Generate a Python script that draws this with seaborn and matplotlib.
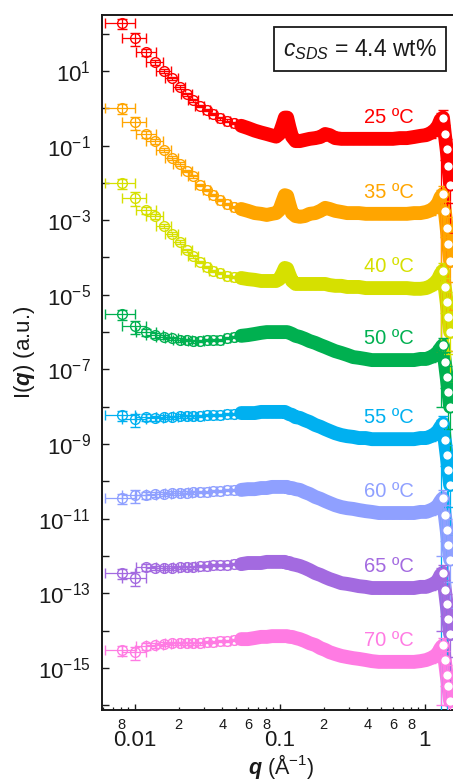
import numpy as np
import pandas as pd
import matplotlib
matplotlib.use("Agg")
import matplotlib.pyplot as plt
import seaborn as sns
from matplotlib.ticker import FixedLocator, FixedFormatter, NullLocator

# ---------------------------------------------------------------- data
temps = ["25 ºC", "35 ºC", "40 ºC", "50 ºC", "55 ºC", "60 ºC", "65 ºC", "70 ºC"]
colors = ["#FF0000", "#FFA500", "#D6E000", "#00B050",
          "#00B0F0", "#8FA0FF", "#A36AE0", "#FF7BE3"]

# scattering vector q (1/Å)
q = [0.0081, 0.0100, 0.0120, 0.0138, 0.0158, 0.0180, 0.0203, 0.0227, 0.0251, 0.0280,
     0.0312, 0.0345, 0.0385, 0.043, 0.048, 0.054, 0.060, 0.067, 0.074, 0.081,
     0.088, 0.094, 0.099, 0.104, 0.108, 0.112, 0.116, 0.121, 0.128, 0.137,
     0.148, 0.160, 0.175, 0.190, 0.205, 0.220, 0.240, 0.265, 0.290, 0.320,
     0.350, 0.390, 0.430, 0.480, 0.540, 0.600, 0.670, 0.750, 0.840, 0.930,
     1.020, 1.100, 1.170, 1.230, 1.280,
     1.330, 1.370, 1.410, 1.450, 1.490]

# log10 of the (offset) intensity for each temperature
log_i_25 = [2.29, 1.88, 1.51, 1.24, 1.00, 0.81, 0.57, 0.38, 0.22, 0.06,
            -0.05, -0.15, -0.27, -0.33, -0.39, -0.47, -0.53, -0.60, -0.65, -0.69,
            -0.73, -0.76, -0.69, -0.45, -0.25, -0.25, -0.50, -0.76, -0.88, -0.88,
            -0.85, -0.82, -0.80, -0.77, -0.69, -0.72, -0.80, -0.82, -0.82, -0.82,
            -0.82, -0.82, -0.82, -0.82, -0.82, -0.82, -0.80, -0.80, -0.77, -0.74,
            -0.72, -0.66, -0.58, -0.47, -0.31,
            -0.25, -0.70, -1.10, -1.55, -2.05]
log_i_35 = [0.01, -0.37, -0.69, -0.88, -1.12, -1.33, -1.49, -1.68, -1.82, -2.06,
            -2.19, -2.32, -2.46, -2.57, -2.65, -2.70, -2.75, -2.81, -2.83, -2.86,
            -2.83, -2.81, -2.73, -2.50, -2.33, -2.35, -2.57, -2.81, -2.89, -2.91,
            -2.89, -2.83, -2.81, -2.75, -2.67, -2.70, -2.75, -2.78, -2.81, -2.81,
            -2.81, -2.83, -2.83, -2.83, -2.83, -2.83, -2.83, -2.83, -2.81, -2.81,
            -2.78, -2.73, -2.65, -2.54, -2.38,
            -2.30, -2.75, -3.20, -3.65, -4.10]
log_i_40 = [-2.00, -2.40, -2.73, -2.89, -3.16, -3.37, -3.58, -3.80, -3.96, -4.12,
            -4.25, -4.36, -4.42, -4.50, -4.52, -4.55, -4.58, -4.60, -4.63, -4.63,
            -4.63, -4.63, -4.58, -4.42, -4.28, -4.30, -4.46, -4.63, -4.71, -4.71,
            -4.71, -4.71, -4.71, -4.71, -4.71, -4.74, -4.76, -4.76, -4.79, -4.79,
            -4.79, -4.82, -4.82, -4.82, -4.82, -4.82, -4.82, -4.82, -4.84, -4.84,
            -4.82, -4.76, -4.68, -4.58, -4.44,
            -4.35, -4.80, -5.20, -5.60, -6.00]
log_i_50 = [-5.51, -5.84, -6.00, -6.08, -6.13, -6.16, -6.21, -6.21, -6.24, -6.24,
            -6.21, -6.21, -6.21, -6.16, -6.13, -6.10, -6.08, -6.05, -6.02, -6.00,
            -6.00, -6.00, -6.00, -6.00, -6.00, -6.00, -6.02, -6.05, -6.10, -6.13,
            -6.18, -6.24, -6.29, -6.35, -6.40, -6.45, -6.51, -6.56, -6.61, -6.67,
            -6.69, -6.72, -6.75, -6.75, -6.75, -6.75, -6.75, -6.75, -6.75, -6.72,
            -6.72, -6.67, -6.61, -6.53, -6.43,
            -6.35, -6.80, -7.20, -7.60, -8.00]
log_i_55 = [-8.22, -8.33, -8.28, -8.30, -8.28, -8.28, -8.25, -8.25, -8.25, -8.25,
            -8.22, -8.22, -8.22, -8.20, -8.20, -8.17, -8.17, -8.17, -8.14, -8.14,
            -8.14, -8.14, -8.14, -8.14, -8.14, -8.17, -8.20, -8.22, -8.28, -8.30,
            -8.36, -8.41, -8.49, -8.54, -8.60, -8.65, -8.71, -8.76, -8.79, -8.81,
            -8.84, -8.84, -8.87, -8.87, -8.87, -8.87, -8.87, -8.87, -8.87, -8.84,
            -8.84, -8.79, -8.73, -8.65, -8.54,
            -8.45, -8.90, -9.30, -9.70, -10.10]
log_i_60 = [-10.45, -10.37, -10.37, -10.34, -10.34, -10.31, -10.31, -10.31, -10.29, -10.29,
            -10.29, -10.26, -10.26, -10.23, -10.23, -10.23, -10.21, -10.21, -10.18, -10.18,
            -10.15, -10.15, -10.15, -10.15, -10.15, -10.15, -10.18, -10.18, -10.21, -10.23,
            -10.29, -10.34, -10.42, -10.47, -10.53, -10.58, -10.64, -10.69, -10.72, -10.74,
            -10.77, -10.80, -10.82, -10.85, -10.85, -10.85, -10.85, -10.85, -10.85, -10.82,
            -10.82, -10.77, -10.72, -10.64, -10.53,
            -10.45, -10.90, -11.30, -11.70, -12.10]
log_i_65 = [-12.46, -12.59, -12.30, -12.32, -12.32, -12.32, -12.30, -12.30, -12.30, -12.27,
            -12.27, -12.24, -12.24, -12.24, -12.22, -12.22, -12.19, -12.19, -12.19, -12.16,
            -12.16, -12.16, -12.16, -12.16, -12.16, -12.19, -12.19, -12.22, -12.24, -12.27,
            -12.32, -12.38, -12.46, -12.51, -12.57, -12.62, -12.67, -12.73, -12.75, -12.78,
            -12.81, -12.83, -12.86, -12.86, -12.86, -12.86, -12.86, -12.86, -12.86, -12.83,
            -12.83, -12.78, -12.73, -12.65, -12.51,
            -12.45, -12.90, -13.30, -13.70, -14.10]
log_i_70 = [-14.52, -14.58, -14.42, -14.39, -14.36, -14.34, -14.34, -14.34, -14.34, -14.34,
            -14.31, -14.31, -14.28, -14.28, -14.25, -14.23, -14.23, -14.20, -14.17, -14.17,
            -14.15, -14.15, -14.15, -14.15, -14.15, -14.15, -14.17, -14.17, -14.20, -14.23,
            -14.28, -14.34, -14.39, -14.47, -14.52, -14.58, -14.63, -14.68, -14.71, -14.74,
            -14.76, -14.79, -14.82, -14.84, -14.84, -14.84, -14.84, -14.84, -14.84, -14.82,
            -14.79, -14.74, -14.68, -14.60, -14.47,
            -14.40, -14.80, -15.20, -15.50, -15.90]
log_intensity = [log_i_25, log_i_35, log_i_40, log_i_50,
                 log_i_55, log_i_60, log_i_65, log_i_70]

# relative uncertainty of each intensity point
rel_err = [0.30, 0.40, 0.20, 0.15, 0.12, 0.10, 0.10, 0.09, 0.09, 0.08,
           0.08, 0.08, 0.07, 0.07, 0.07, 0.07, 0.07, 0.07, 0.07, 0.07,
           0.07, 0.07, 0.07, 0.07, 0.07, 0.07, 0.07, 0.07, 0.08, 0.08,
           0.08, 0.08, 0.09, 0.09, 0.09, 0.10, 0.10, 0.10, 0.11, 0.11,
           0.12, 0.12, 0.13, 0.13, 0.14, 0.15, 0.16, 0.17, 0.18, 0.20,
           0.22, 0.25, 0.30, 0.40, 0.50,
           0.60, 0.80, 0.90, 0.90, 0.95]
# instrumental q resolution (1/Å)
q_res = 0.0019
# lower end (log10) of the wide uncertainty at the two noisiest high-q points
tail_floor = [-6.5, -6.5, -6.5, -8.0, -16.5, -12.0, -14.0, -16.0]
noisy_points = [54, 57]

# ---------------------------------------------------------------- style
sns.set_theme(style="ticks")
plt.rcParams.update({
    "font.family": ["Liberation Sans", "DejaVu Sans"],
    "mathtext.fontset": "custom",
    "mathtext.rm": "Liberation Sans",
    "mathtext.it": "Liberation Sans:italic",
    "mathtext.bf": "Liberation Sans:bold",
    "mathtext.bfit": "Liberation Sans:italic:bold",
    "text.color": "#1a1a1a",
    "axes.labelcolor": "#1a1a1a",
    "xtick.color": "#1a1a1a",
    "ytick.color": "#1a1a1a",
})

fig = plt.figure(figsize=(4.53, 7.82), dpi=100)
ax = fig.add_axes([102 / 453, 1 - 710 / 782, 351 / 453, 695 / 782])
ax.set_xscale("log")
ax.set_yscale("log")

q_arr = np.array(q)
band_from = 15
n_main = 55

for k, (name, col, logs) in enumerate(zip(temps, colors, log_intensity)):
    inten = 10.0 ** np.array(logs)
    err = inten * np.array(rel_err)
    lo = err.copy()
    for j in noisy_points:
        lo[j] = inten[j] - 10.0 ** tail_floor[k]
    hi = err

    # dense high-q part of the curve
    band = pd.DataFrame({"q": q_arr[band_from:], "I": inten[band_from:]})
    sns.lineplot(data=band, x="q", y="I", color=col, linewidth=10,
                 estimator=None, sort=False, ax=ax, zorder=2 + k * 0.01)

    # individual points with error bars
    ax.errorbar(q_arr[:n_main], inten[:n_main], xerr=q_res,
                yerr=[lo[:n_main], hi[:n_main]], fmt="o", ms=7,
                mfc="none", mec=col, mew=1.0, ecolor=col, elinewidth=0.9,
                capsize=3.6, capthick=0.9, zorder=3 + k * 0.01)
    ax.errorbar(q_arr[n_main:], inten[n_main:], xerr=q_res,
                yerr=[lo[n_main:], hi[n_main:]], fmt="o", ms=7,
                mfc="white", mec=col, mew=1.0, ecolor=col, elinewidth=0.9,
                capsize=3.6, capthick=0.9, zorder=3 + k * 0.01)

    # temperature label just above the plateau
    ax.text(0.565, inten[44] * 10 ** 0.58, name, color=col, fontsize=14.5,
            ha="center", va="center", zorder=6)

# ---------------------------------------------------------------- axes
ax.set_xlim(0.00592, 1.56)
ax.set_ylim(10 ** -16.13, 10 ** 2.5)

ax.xaxis.set_major_locator(FixedLocator([0.01, 0.1, 1]))
ax.xaxis.set_major_formatter(FixedFormatter(["0.01", "0.1", "1"]))
minor_pos = [0.006, 0.007, 0.008, 0.009,
             0.02, 0.03, 0.04, 0.05, 0.06, 0.07, 0.08, 0.09,
             0.2, 0.3, 0.4, 0.5, 0.6, 0.7, 0.8, 0.9]
minor_lab = ["", "", "8", "",
             "2", "", "4", "", "6", "", "8", "",
             "2", "", "4", "", "6", "", "8", ""]
ax.xaxis.set_minor_locator(FixedLocator(minor_pos))
ax.xaxis.set_minor_formatter(FixedFormatter(minor_lab))

ypow = list(range(-16, 3))
ax.yaxis.set_major_locator(FixedLocator([10.0 ** p for p in ypow]))
ax.yaxis.set_major_formatter(FixedFormatter(
    [r"$10^{%d}$" % p if p % 2 else "" for p in ypow]))
ax.yaxis.set_minor_locator(NullLocator())

ax.tick_params(axis="x", which="major", direction="in", length=4.5, width=1.0,
               labelsize=16, pad=14.5)
ax.tick_params(axis="x", which="minor", direction="in", length=2.5, width=0.9,
               labelsize=10.5, pad=5.5)
ax.tick_params(axis="y", which="major", direction="in", length=5, width=1.0,
               labelsize=16, pad=8)
ax.tick_params(top=False, right=False, which="both")

for side in ["left", "bottom", "top"]:
    ax.spines[side].set_linewidth(1.4)
    ax.spines[side].set_color("#1a1a1a")
ax.spines["right"].set_visible(False)

ax.set_xlabel(r"$\mathbfit{q}$ (Å$^{-1}$)", fontsize=15.5)
ax.set_ylabel(r"I($\mathbfit{q}$) (a.u.)", fontsize=16)
ax.xaxis.set_label_coords(0.51, -0.0605)
ax.yaxis.set_label_coords(-0.185, 0.515)

ax.text(0.735, 0.951, r"$\mathit{c}_{\mathit{SDS}}$ = 4.4 wt%",
        transform=ax.transAxes, fontsize=16.5, ha="center", va="center",
        bbox=dict(boxstyle="square,pad=0.4", fc="white", ec="#1a1a1a", lw=1.3),
        zorder=7)

fig.savefig("out.png", dpi=100)
